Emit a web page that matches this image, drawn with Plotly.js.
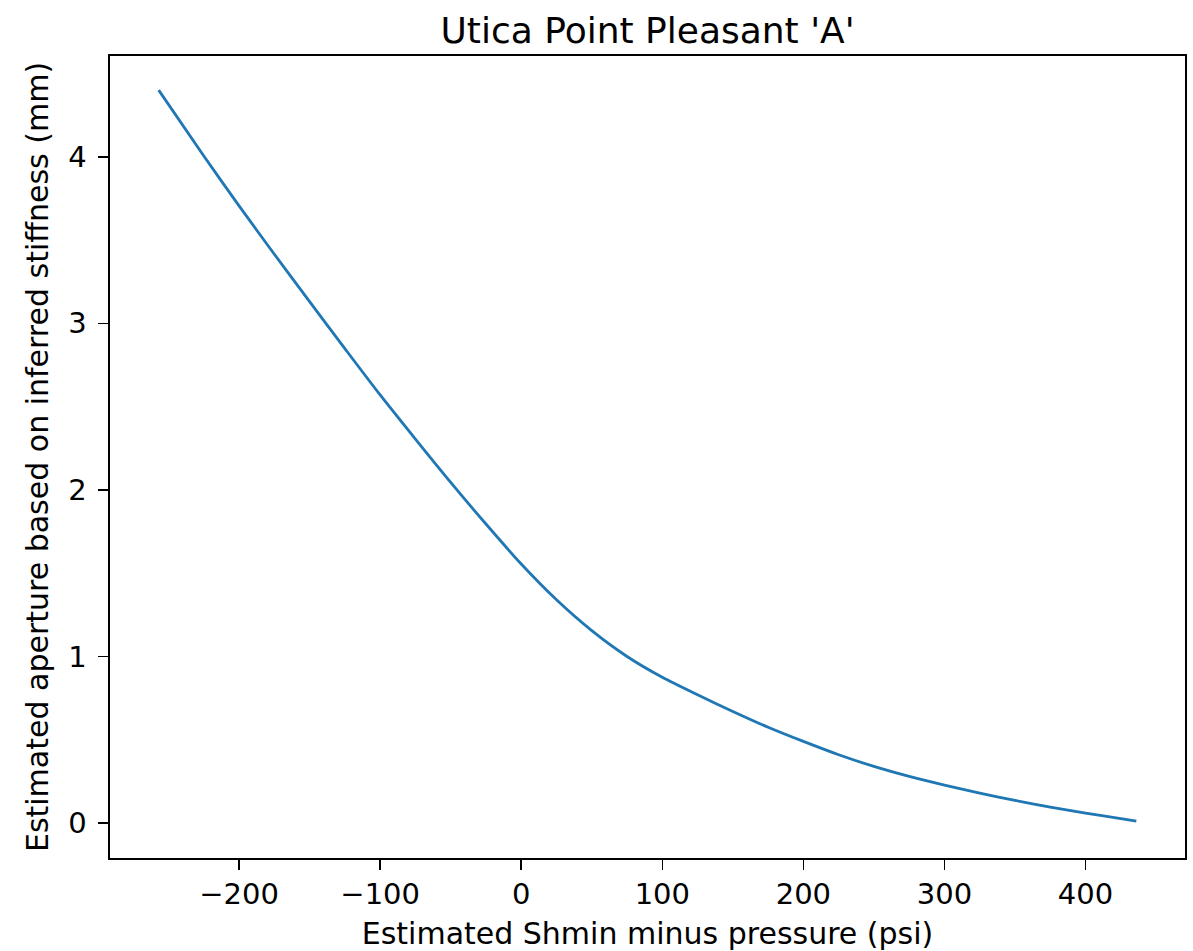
<!DOCTYPE html>
<html>
<head>
<meta charset="utf-8">
<script src="https://cdn.plot.ly/plotly-3.0.1.min.js"></script>
<style>html,body{margin:0;padding:0;background:#fff}#chart{width:1193px;height:951px}</style>
</head>
<body>
<div id="chart"></div>
<script>
// Estimated Shmin minus pressure (psi)
const pressure = [-257, -225, -200, -175, -150, -125, -100, -75, -50, -25, 0, 25, 50, 75, 100, 125, 150, 175, 200, 225, 250, 275, 300, 325, 350, 375, 400, 425, 436];
// Estimated aperture based on inferred stiffness (mm)
const aperture = [4.40, 4.005, 3.705, 3.415, 3.13, 2.848, 2.57, 2.305, 2.045, 1.795, 1.555, 1.34, 1.155, 1.0, 0.875, 0.77, 0.67, 0.575, 0.49, 0.41, 0.34, 0.28, 0.228, 0.18, 0.136, 0.096, 0.06, 0.027, 0.012];
const xTicks = [-200, -100, 0, 100, 200, 300, 400];
const yTicks = [0, 1, 2, 3, 4];

const titleText = "Utica Point Pleasant 'A'";
const xTitle = "Estimated Shmin minus pressure (psi)";
const yTitle = "Estimated aperture based on inferred stiffness (mm)";

const fontFam = "DejaVu Sans, sans-serif";

const trace = {
  x: pressure, y: aperture, type: 'scatter', mode: 'lines',
  line: {color: '#1f77b4', width: 2.8, shape: 'spline', smoothing: 0.8},
  hoverinfo: 'x+y', showlegend: false
};

const axisCommon = {
  showline: true, mirror: true, linecolor: '#000', linewidth: 1.6,
  ticks: 'outside', ticklen: 10, tickwidth: 1.5, tickcolor: '#000',
  showgrid: false, zeroline: false,
  tickfont: {family: fontFam, size: 29, color: '#000'}
};

const layout = {
  width: 1193, height: 951,
  margin: {l: 110, r: 8, t: 56, b: 93},
  paper_bgcolor: '#fff', plot_bgcolor: '#fff',
  font: {family: fontFam, color: '#000'},
  title: {text: titleText, font: {family: fontFam, size: 36, color: '#000'},
          x: 0.5, xref: 'paper', y: 0.968, yref: 'container', yanchor: 'middle'},
  xaxis: Object.assign({}, axisCommon, {
    range: [-291.5, 470.5], tickmode: 'array', tickvals: xTicks,
    ticktext: xTicks.map(v => v < 0 ? '\u2212' + Math.abs(v) : String(v)),
    title: {text: xTitle, font: {family: fontFam, size: 30, color: '#000'}, standoff: 12}
  }),
  yaxis: Object.assign({}, axisCommon, {
    range: [-0.21, 4.605], tickmode: 'array', tickvals: yTicks,
    ticktext: yTicks.map(String), ticklabelstandoff: 6,
    title: {text: yTitle, font: {family: fontFam, size: 30, color: '#000'}, standoff: 10}
  })
};

Plotly.newPlot('chart', [trace], layout, {displayModeBar: false, staticPlot: true});
</script>
</body>
</html>
